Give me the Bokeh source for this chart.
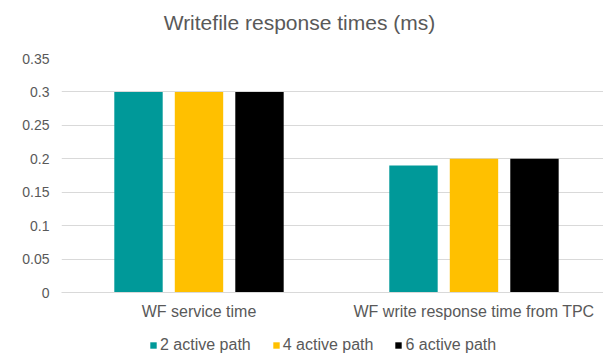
from bokeh.plotting import figure
from bokeh.layouts import column
from bokeh.models import (ColumnDataSource, FixedTicker, NumeralTickFormatter, Legend,
                          LegendItem, Range1d, Label)
from bokeh.transform import dodge
from bokeh.embed import file_html
from bokeh.resources import INLINE

title_text = "Writefile response times (ms)"
categories = ["WF service time", "WF write response time from TPC"]
series_names = ["2 active path", "4 active path", "6 active path"]
series_colors = ["#009999", "#FFC000", "#000000"]
values_2 = [0.30, 0.19]
values_4 = [0.30, 0.20]
values_6 = [0.30, 0.20]
y_ticks = [0, 0.05, 0.1, 0.15, 0.2, 0.25, 0.3, 0.35]

FONT = "Liberation Sans"
GRAY = "#595959"

# title strip (its frame is aligned with the chart's frame by the column layout)
tf = figure(width=603, height=36, output_backend="svg", toolbar_location=None,
            x_axis_type=None, y_axis_type=None, min_border=0, outline_line_color=None,
            x_range=Range1d(0, 1), y_range=Range1d(0, 1))
tf.grid.visible = False
tf.add_layout(Label(x=0.439, y=0.39, text=title_text, text_align="center",
                    text_baseline="middle", text_font=FONT, text_font_size="21px",
                    text_color=GRAY))

centers = [i + 0.5 for i in range(len(categories))]
src = ColumnDataSource(dict(x=centers, cat=categories, v2=values_2, v4=values_4, v6=values_6))

p = figure(width=603, height=294, output_backend="svg", toolbar_location=None,
           x_range=Range1d(0, 1.971), y_range=Range1d(0, 0.35),
           min_border_left=61, min_border_right=0, min_border_top=22, min_border_bottom=38,
           outline_line_color=None)

offsets = [-0.22, 0.0, 0.22]
for col, off, color in zip(["v2", "v4", "v6"], offsets, series_colors):
    p.vbar(x=dodge("x", off, range=p.x_range), top=col, width=0.176, source=src,
           fill_color=color, line_color=None)

p.xaxis.ticker = FixedTicker(ticks=centers)
p.xaxis.major_label_overrides = {c: lab for c, lab in zip(centers, categories)}
p.xaxis.axis_line_color = "#D9D9D9"
p.xaxis.major_tick_line_color = None
p.xaxis.major_tick_out = 0
p.xaxis.major_tick_in = 0
p.xaxis.minor_tick_line_color = None
p.xaxis.major_label_text_font = FONT
p.xaxis.major_label_text_font_size = "16px"
p.xaxis.major_label_text_color = GRAY
p.xaxis.major_label_standoff = 10

p.yaxis.ticker = FixedTicker(ticks=y_ticks)
p.yaxis.formatter = NumeralTickFormatter(format="0.[00]")
p.yaxis.axis_line_color = None
p.yaxis.major_tick_line_color = None
p.yaxis.major_tick_out = 0
p.yaxis.major_tick_in = 0
p.yaxis.minor_tick_line_color = None
p.yaxis.major_label_text_font = FONT
p.yaxis.major_label_text_font_size = "14px"
p.yaxis.major_label_text_color = GRAY
p.yaxis.major_label_standoff = 12

p.xgrid.grid_line_color = None
p.ygrid.grid_line_color = "#D9D9D9"
p.ygrid.grid_line_width = 1

# legend strip below the chart (its frame is aligned with the chart's frame)
lg = figure(width=603, height=24, output_backend="svg", toolbar_location=None,
            x_axis_type=None, y_axis_type=None,
            min_border=0, outline_line_color=None,
            x_range=Range1d(0, 1), y_range=Range1d(0, 1))
lg.grid.visible = False
items = []
for name, color in zip(series_names, series_colors):
    r = lg.vbar(x=[5], top=[1], width=0.1, fill_color=color, line_color=None)
    items.append(LegendItem(label=name, renderers=[r]))
legend = Legend(items=items, orientation="horizontal", location=(88, 0),
                label_text_font=FONT, label_text_font_size="16px", label_text_color=GRAY,
                glyph_width=8, glyph_height=8, label_height=18, spacing=21, label_standoff=3,
                border_line_color=None, background_fill_alpha=0, padding=0, margin=0)
lg.add_layout(legend, "center")

layout = column(tf, p, lg, spacing=0)
open("out.html", "w").write(file_html(layout, INLINE))
